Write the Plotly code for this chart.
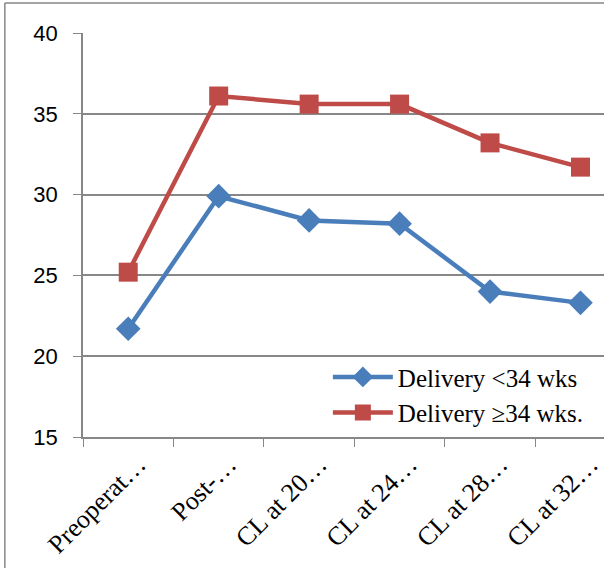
import plotly.graph_objects as go

# Category labels as shown on the axis
categories = ["Preoperat…", "Post-…", "CL at 20…", "CL at 24…", "CL at 28…", "CL at 32…"]

# Cervical length (mm) per group
early_delivery = [21.7, 29.9, 28.4, 28.2, 24.0, 23.3]
late_delivery = [25.2, 36.1, 35.6, 35.6, 33.2, 31.7]

series_names = ["Delivery <34 wks", "Delivery ≥34 wks."]
y_ticks = [15, 20, 25, 30, 35, 40]

BLUE = "#4A7EBB"
RED = "#BE4B48"
GRID = "#878787"

fig = go.Figure()
fig.add_trace(go.Scatter(
    x=categories, y=early_delivery, name=series_names[0],
    mode="lines+markers",
    line=dict(color=BLUE, width=4.5),
    marker=dict(symbol="diamond", size=19, color=BLUE),
))
fig.add_trace(go.Scatter(
    x=categories, y=late_delivery, name=series_names[1],
    mode="lines+markers",
    line=dict(color=RED, width=4.5),
    marker=dict(symbol="square", size=19, color=RED),
))

fig.update_layout(
    width=604, height=568,
    margin=dict(l=83, r=0, t=33, b=131),
    paper_bgcolor="white", plot_bgcolor="white",
    showlegend=True,
    legend=dict(
        x=0.47, y=0.205, xanchor="left", yanchor="top",
        bgcolor="rgba(255,255,255,0)", borderwidth=0,
        font=dict(family="Liberation Serif", size=25, color="black"),
        tracegroupgap=0, itemwidth=60,
    ),
    xaxis=dict(
        type="category",
        range=[-0.5, 5.26],
        tickson="boundaries",
        ticks="outside", ticklen=8, tickcolor=GRID,
        showline=True, linecolor=GRID, linewidth=1.5,
        showgrid=False, zeroline=False,
        tickangle=-45,
        ticklabelshift=10,
        tickfont=dict(family="Liberation Serif", size=26, color="black"),
    ),
    yaxis=dict(
        range=[15, 40],
        tickvals=y_ticks,
        ticks="outside", ticklen=8, tickcolor=GRID,
        showline=True, linecolor=GRID, linewidth=1.5,
        showgrid=True, gridcolor=GRID, gridwidth=1.5,
        zeroline=False,
        ticklabelstandoff=11,
        tickfont=dict(family="Liberation Sans", size=22, color="black"),
    ),
)

# Chart frame (left and top edges)
fig.add_shape(type="line", xref="paper", yref="paper",
              x0=-0.150, x1=-0.150, y0=-0.33, y1=1.074,
              line=dict(color=GRID, width=1.5))
fig.add_shape(type="line", xref="paper", yref="paper",
              x0=-0.150, x1=1.05, y0=1.074, y1=1.074,
              line=dict(color=GRID, width=1.5))

fig.write_html("out.html")
